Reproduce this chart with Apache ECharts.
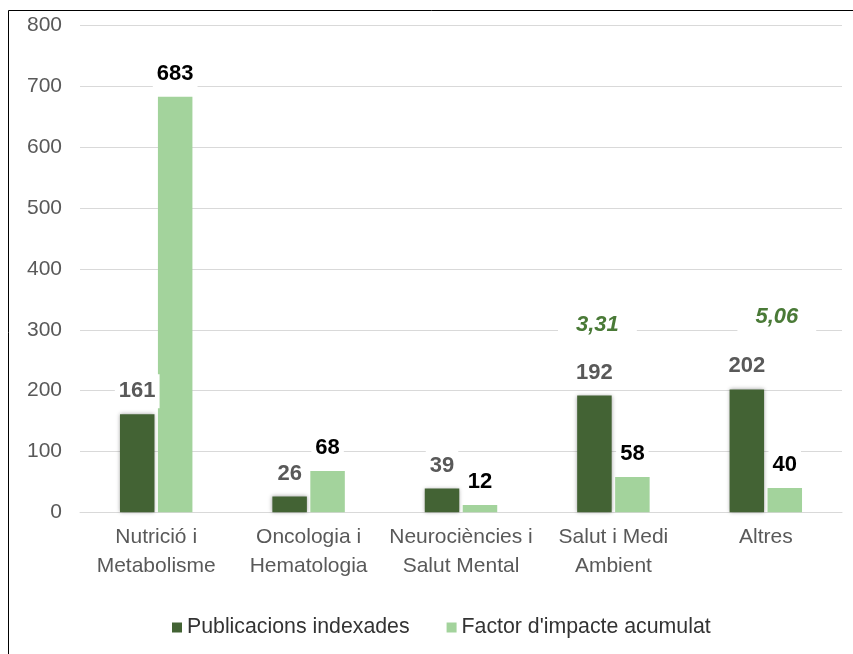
<!DOCTYPE html>
<html>
<head>
<meta charset="utf-8">
<script src="https://cdn.jsdelivr.net/npm/echarts@6/dist/echarts.min.js"></script>
<style>
html,body{margin:0;padding:0;background:#fff;}
#chart{width:853px;height:654px;}
</style>
</head>
<body>
<div id="chart"></div>
<script>
const categories = ['Nutrició i\nMetabolisme', 'Oncologia i\nHematologia', 'Neurociències i\nSalut Mental', 'Salut i Medi\nAmbient', 'Altres'];
const seriesNames = ['Publicacions indexades', "Factor d'impacte acumulat"];
const publicacions = [161, 26, 39, 192, 202];
const factorImpacte = [683, 68, 12, 58, 40];
const yTicks = [0, 100, 200, 300, 400, 500, 600, 700, 800];
const annotCategories = [3, 4];
const annotValues = [308, 322];
const annotTexts = ['3,31', '5,06'];
const annotShift = [3, 30];

const FONT = '"Liberation Sans", Arial, sans-serif';
const chart = echarts.init(document.getElementById('chart'), null, {renderer: 'canvas'});

const labelBase = {
  show: true,
  position: 'top',
  distance: 6,
  fontFamily: FONT,
  fontSize: 22,
  fontWeight: 'bold',
  backgroundColor: '#fff',
  padding: [6, 4],
  lineHeight: 22
};

chart.setOption({
  animation: false,
  backgroundColor: '#fff',
  graphic: [{
    type: 'polyline',
    shape: {points: [[8.5, 660], [8.5, 10.5], [860, 10.5]]},
    style: {stroke: '#000', lineWidth: 1, fill: null},
    z: 100
  }],
  grid: {left: 80, right: 11, top: 25.7, bottom: 141.7, containLabel: false},
  legend: {
    data: seriesNames,
    left: 167,
    top: 612,
    icon: 'rect',
    itemWidth: 10,
    itemHeight: 10,
    itemGap: 37,
    textStyle: {fontFamily: FONT, fontSize: 21.3, color: '#333'}
  },
  xAxis: {
    type: 'category',
    data: categories,
    axisLine: {show: true, lineStyle: {color: '#d9d9d9', width: 1}},
    axisTick: {show: false},
    axisLabel: {fontFamily: FONT, fontSize: 21, color: '#595959', lineHeight: 29, margin: 10, interval: 0}
  },
  yAxis: {
    type: 'value',
    min: yTicks[0],
    max: yTicks[yTicks.length - 1],
    interval: 100,
    axisLine: {show: false},
    axisTick: {show: false},
    splitLine: {lineStyle: {color: '#d9d9d9', width: 1}},
    axisLabel: {fontFamily: FONT, fontSize: 21, color: '#595959', margin: 18}
  },
  series: [{
    name: seriesNames[0],
    type: 'bar',
    data: publicacions,
    barWidth: 34.5,
    barGap: '10%',
    itemStyle: {color: '#436334', shadowBlur: 4, shadowColor: 'rgba(0,0,0,0.35)'},
    label: Object.assign({}, labelBase, {color: '#595959'}),
    markPoint: {
      symbol: 'rect',
      symbolSize: 1,
      itemStyle: {color: 'rgba(0,0,0,0)'},
      data: annotCategories.map((c, i) => ({
        coord: [c, annotValues[i]],
        value: annotTexts[i],
        label: {offset: [annotShift[i], 0]}
      })),
      label: {
        show: true,
        position: 'inside',
        formatter: p => p.value,
        fontFamily: FONT,
        fontSize: 22,
        fontWeight: 'bold',
        fontStyle: 'italic',
        color: '#4a7a37',
        backgroundColor: '#fff',
        padding: [7, 18]
      }
    }
  }, {
    name: seriesNames[1],
    type: 'bar',
    data: factorImpacte,
    barWidth: 34.5,
    itemStyle: {color: '#a3d39c'},
    label: Object.assign({}, labelBase, {color: '#000'})
  }]
});
</script>
</body>
</html>
